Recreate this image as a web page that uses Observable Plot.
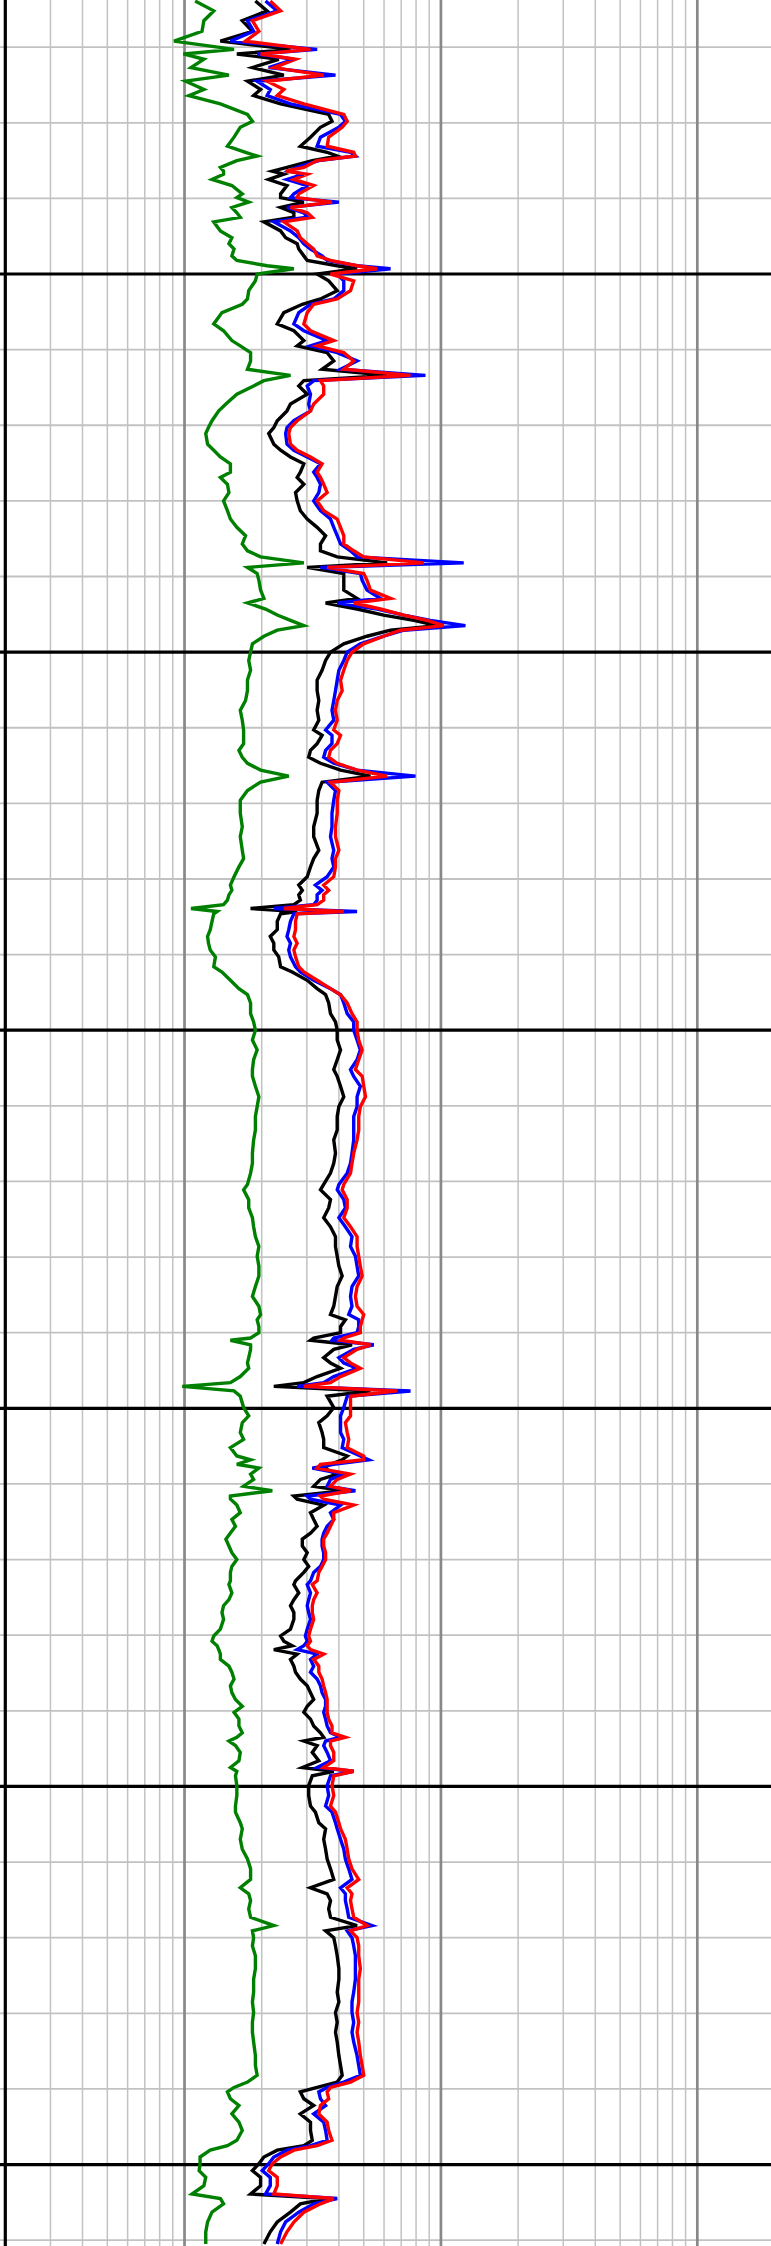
<!DOCTYPE html>
<html>
<head>
<meta charset="utf-8">
<script src="https://cdn.jsdelivr.net/npm/d3@7"></script>
<script src="https://cdn.jsdelivr.net/npm/@observablehq/plot@0.6"></script>
<style>
  html, body { margin: 0; padding: 0; background: #fff; }
  #chart { width: 771px; height: 2246px; overflow: hidden; }
  #chart svg { overflow: hidden; display: block; }
</style>
</head>
<body>
<div id="chart"></div>
<script>
// Depth (ft) of each sample, top to bottom
const depth = [
1013.9,1015.2,1016.5,1017.9,1019.2,1020.3,1020.9,1021.6,1022.7,1023.7,1024.5,1025.6,1026.4,1027.5,1028.9,1029.8,1030.6,1031.9,1033.1,1033.9,1034.4,1035.0,1035.9,1036.4,1036.8,1037.5,1038.3,1039.4,1039.9,1040.5,1041.2,1041.9,1042.5,1043.1,1044.3,1045.2,1046.0,1046.7,1047.6,1048.2,1048.9,1049.3,1050.0,
1050.9,1052.2,1053.3,1054.0,1055.1,1056.6,1057.5,1058.8,1059.5,1060.4,1061.5,1062.6,1063.4,1064.1,1064.8,1065.9,1067.2,1068.1,1069.4,1070.3,1071.1,1072.5,1073.3,1074.2,1075.1,1076.2,1076.9,1077.8,1078.9,1080.0,1081.3,1082.4,1083.5,1084.6,1085.7,1086.6,1087.4,
1088.2,1088.8,1089.6,1090.5,1091.8,1092.9,1093.5,1094.3,1095.1,1095.8,1096.5,1097.1,1097.9,1098.9,1100.0,1101.1,1102.4,1103.7,1105.1,1106.4,1107.7,1109.0,1110.3,1111.0,1112.1,1113.0,1113.9,1114.7,1115.6,1116.4,1117.2,1118.3,1119.6,1121.3,1123.1,1124.4,
1126.2,1127.3,1128.4,1129.7,1130.8,1131.5,1132.1,1132.8,1133.4,1133.9,1134.3,1134.6,1135.6,1136.7,1137.6,1138.5,1139.4,1140.3,1141.6,1142.3,1143.4,1144.5,1145.3,1146.4,1147.8,1148.9,1150.0,1151.3,1152.6,1153.9,1155.2,1156.1,1157.4,1158.8,1160.1,1161.4,
1163.2,1164.5,1166.25,1167.6,1168.9,1170.4,1171.1,1172.4,1173.5,1174.8,1176.0,1177.3,1178.6,1179.9,1181.2,1182.5,1183.9,1185.2,1186.5,1187.6,1188.3,1189.2,1190.0,1190.7,1191.0,1191.6,1192.2,1193.3,1194.0,1194.7,1195.8,1196.6,1197.1,1197.7,1198.4,
1199.9,1201.0,1201.9,1203.2,1204.1,1205.2,1206.3,1206.8,1207.4,1207.9,1208.7,1209.4,1210.3,1210.9,1211.6,1212.0,1212.8,1213.8,1214.7,1215.6,1216.5,1217.3,1218.2,1219.1,1220.0,1220.9,1221.7,1222.8,1223.3,1224.4,1225.3,1226.1,1227.0,1227.9,1229.2,1230.1,1230.8,1231.4,1231.9,1232.5,1233.2,1234.1,1234.9,1235.8,
1236.7,1237.6,1238.5,1239.4,1240.2,1241.1,1242.0,1242.9,1243.5,1244.0,1244.6,1245.5,1246.6,1247.5,1248.0,1248.6,1249.9,1251.2,1252.6,1253.4,1254.8,1255.6,1257.0,1258.3,1259.6,1260.9,1262.3,1263.4,1264.2,1265.1,1266.2,1267.3,1268.4,1269.1,1270.0,1271.1,1272.4,
1274.1,1275.5,1277.2,1278.5,1279.9,1281.2,1282.5,1283.8,1285.6,1286.9,1288.2,1289.1,1289.8,1290.4,1291.3,1292.2,1293.3,1294.4,1295.5,1296.8,1297.5,1298.1,1299.0,1299.9,1300.8,1301.7,1302.8,1303.9,1304.5,1305.2,1306.3,1307.6,1308.9,1310.5
];

const green = [
1.10,1.30,1.19,1.17,0.91,1.56,0.99,1.19,1.06,1.49,1.01,1.19,1.04,1.38,1.76,1.84,1.65,1.56,1.47,1.73,1.92,1.60,1.38,1.42,1.42,1.28,1.53,1.68,1.60,1.78,1.53,1.60,1.65,1.30,1.38,1.53,1.49,1.56,1.53,1.60,2.10,2.67,1.92,
1.89,1.78,1.76,1.68,1.40,1.30,1.42,1.53,1.65,1.81,1.81,1.76,2.59,2.04,1.86,1.60,1.45,1.36,1.28,1.24,1.21,1.23,1.30,1.38,1.51,1.51,1.38,1.47,1.49,1.42,1.47,1.51,1.60,1.73,1.68,1.76,1.98,
2.92,1.76,1.92,1.95,1.98,2.04,1.76,2.07,2.30,2.59,2.92,2.30,2.04,1.84,1.81,1.78,1.81,1.76,1.76,1.73,1.65,1.68,1.70,1.70,1.70,1.63,1.68,1.76,1.98,2.55,1.98,1.76,1.65,1.65,1.68,1.65,
1.68,1.70,1.63,1.56,1.51,1.53,1.49,1.47,1.42,1.06,1.34,1.30,1.28,1.26,1.23,1.24,1.26,1.32,1.30,1.40,1.51,1.63,1.76,1.81,1.81,1.86,1.89,1.84,1.92,1.86,1.84,1.84,1.89,1.95,1.92,1.89,
1.89,1.86,1.84,1.84,1.81,1.76,1.70,1.78,1.78,1.84,1.86,1.89,1.95,1.92,1.95,1.95,1.89,1.84,1.95,1.98,1.92,1.95,1.95,1.81,1.51,1.81,1.81,1.78,1.76,1.78,1.65,1.51,0.98,1.56,1.65,
1.70,1.78,1.68,1.65,1.70,1.51,1.60,1.81,1.60,1.95,1.81,1.86,1.70,2.20,1.51,1.51,1.60,1.65,1.53,1.58,1.51,1.45,1.49,1.53,1.60,1.53,1.51,1.51,1.49,1.53,1.49,1.42,1.40,1.42,1.38,1.30,1.28,1.34,1.36,1.38,1.38,1.49,1.53,1.56,
1.51,1.53,1.58,1.68,1.56,1.63,1.63,1.68,1.60,1.49,1.58,1.65,1.63,1.51,1.60,1.58,1.60,1.60,1.58,1.58,1.65,1.68,1.65,1.68,1.76,1.81,1.81,1.65,1.78,1.81,1.78,1.81,2.23,1.84,1.86,1.84,1.89,
1.89,1.86,1.86,1.84,1.86,1.84,1.84,1.86,1.89,1.89,1.92,1.76,1.56,1.47,1.51,1.63,1.53,1.63,1.68,1.60,1.47,1.26,1.15,1.15,1.14,1.21,1.19,1.07,1.38,1.42,1.28,1.23,1.21,1.21
];

const black = [
1.89,2.10,1.68,1.84,1.38,2.59,1.60,2.33,1.84,2.44,1.76,1.98,1.86,2.37,3.65,3.76,3.39,3.10,2.83,3.60,3.94,3.15,2.51,2.20,2.44,2.13,2.51,2.37,2.37,2.92,2.37,2.67,2.67,2.04,2.37,2.48,2.75,2.79,2.92,3.01,3.94,4.71,3.29,
3.65,3.94,3.39,2.88,2.44,2.30,2.67,2.92,2.75,3.60,3.82,3.44,6.17,2.92,2.79,3.01,2.59,2.51,2.30,2.23,2.13,2.23,2.37,2.59,2.92,2.83,2.75,2.92,2.71,2.75,2.83,3.01,3.29,3.55,3.39,3.39,3.94,
6.17,3.01,4.18,4.18,4.18,4.71,3.55,4.71,5.98,7.84,9.66,6.36,5.15,4.18,3.71,3.55,3.44,3.29,3.29,3.34,3.29,3.34,3.19,3.44,3.29,3.10,3.05,3.39,4.06,5.31,3.44,3.34,3.29,3.29,3.19,3.19,
3.34,3.19,3.10,3.01,2.79,2.88,2.79,2.83,2.67,1.81,2.75,2.37,2.30,2.30,2.16,2.23,2.23,2.33,2.37,2.63,3.01,3.29,3.55,3.65,3.71,3.88,3.94,3.94,4.06,3.94,3.82,3.94,4.06,4.18,4.00,3.94,
3.94,3.82,3.88,3.82,3.71,3.49,3.39,3.71,3.65,3.49,3.71,3.88,3.88,3.94,4.00,4.12,3.94,3.88,3.82,3.71,4.24,4.06,4.06,3.19,3.10,4.50,3.82,3.49,3.71,4.06,3.29,2.92,2.23,5.31,3.60,
3.82,3.60,3.34,3.44,3.49,3.49,4.31,4.12,3.71,3.49,3.94,3.39,3.19,4.18,2.67,2.75,3.49,3.10,3.19,3.29,3.10,2.88,2.88,3.01,2.92,3.05,2.92,2.71,2.67,2.79,2.67,2.59,2.67,2.67,2.59,2.37,2.44,2.63,2.23,2.75,2.59,2.67,2.71,2.83,
3.01,3.10,3.19,3.01,2.92,3.10,3.19,3.39,3.49,2.92,3.29,3.15,3.34,2.88,3.82,3.15,3.05,3.05,3.10,3.24,3.34,3.55,3.49,3.55,3.60,3.71,3.82,3.10,3.60,3.71,3.65,3.71,4.71,3.55,3.82,3.88,3.94,
4.00,4.00,3.94,4.00,3.88,3.94,3.88,3.94,4.00,4.06,4.12,3.94,3.29,2.83,2.92,3.19,2.83,3.10,3.10,3.15,2.92,2.30,2.04,1.95,1.84,1.98,1.98,1.81,3.60,2.83,2.59,2.30,2.16,2.04
];

const blue = [
2.07,2.30,1.76,1.86,1.51,3.29,1.92,2.67,2.13,3.88,1.92,2.16,2.10,2.59,4.06,4.24,4.00,3.39,3.29,4.44,4.64,3.34,2.75,2.55,2.92,2.51,3.01,2.67,2.59,4.00,2.51,2.92,3.01,2.23,2.59,2.79,2.92,3.10,3.44,3.60,4.71,6.36,3.94,
4.18,4.18,3.82,3.10,2.79,2.67,2.92,3.60,3.10,3.94,4.71,4.06,8.70,3.19,3.01,3.10,3.05,3.10,2.67,2.51,2.48,2.51,2.67,3.01,3.39,3.19,3.29,3.39,3.34,3.19,3.39,3.71,3.82,3.94,4.06,4.44,4.71,
12.27,3.39,4.85,4.93,5.15,5.81,3.94,5.64,7.16,9.10,12.46,7.16,5.98,4.85,4.31,4.18,4.00,3.94,3.88,3.82,3.76,3.82,3.55,3.76,3.76,3.55,3.49,3.82,4.71,7.96,3.60,3.88,3.82,3.76,3.76,3.71,
3.82,3.76,3.82,3.60,3.24,3.44,3.29,3.29,3.19,2.23,4.71,2.67,2.59,2.55,2.51,2.59,2.55,2.59,2.71,2.83,3.19,3.71,4.06,4.18,4.31,4.57,4.57,4.71,4.85,4.71,4.44,4.57,4.85,4.71,4.71,4.57,
4.57,4.57,4.50,4.44,4.31,4.00,3.94,4.18,4.24,4.00,4.24,4.50,4.44,4.64,4.71,4.78,4.50,4.44,4.50,4.37,4.78,4.78,4.71,3.82,3.76,5.47,4.57,4.00,4.18,4.71,3.82,3.49,2.75,7.61,4.31,
4.18,4.06,4.06,4.06,4.18,4.12,4.85,5.23,3.82,3.15,4.18,3.71,3.60,4.64,3.01,3.10,4.06,3.71,3.82,3.60,3.49,3.44,3.44,3.49,3.49,3.39,3.19,3.10,3.01,3.10,3.05,3.01,3.05,3.10,3.01,2.96,3.01,2.92,2.75,3.29,3.10,3.19,3.10,3.29,
3.39,3.44,3.55,3.55,3.49,3.55,3.60,3.71,4.06,3.55,3.49,3.60,3.71,3.29,4.57,3.71,3.60,3.65,3.55,3.76,3.88,3.94,4.06,4.18,4.24,4.37,4.50,4.06,4.24,4.24,4.31,4.37,5.39,4.31,4.50,4.57,4.64,
4.64,4.64,4.57,4.50,4.50,4.57,4.50,4.57,4.71,4.78,4.85,4.18,3.60,3.34,3.39,3.55,3.19,3.49,3.55,3.60,3.10,2.51,2.23,2.13,2.01,2.16,2.16,2.07,3.94,3.19,2.79,2.48,2.37,2.30
];

const red = [
2.16,2.37,1.84,1.95,1.73,3.10,1.98,2.71,2.23,3.49,2.10,2.44,2.30,2.92,4.18,4.31,4.12,3.65,3.60,4.57,4.64,3.29,2.92,2.48,3.01,2.67,3.19,2.79,2.75,3.76,2.59,3.01,3.15,2.44,2.75,2.83,3.01,3.19,3.29,3.71,4.71,5.64,3.71,
4.57,4.44,3.94,3.19,3.01,2.92,3.10,3.82,3.29,4.18,4.57,4.18,7.61,3.39,3.49,3.49,3.19,3.10,2.75,2.59,2.55,2.59,2.75,3.10,3.44,3.29,3.39,3.49,3.60,3.29,3.49,3.94,4.06,4.18,4.18,4.57,5.00,
8.58,3.60,5.00,5.15,5.31,6.36,4.57,5.81,7.16,8.83,10.26,6.95,5.98,5.00,4.50,4.31,4.18,4.06,4.12,3.94,3.88,3.94,3.82,4.06,3.94,3.71,3.65,3.94,4.71,6.17,3.71,4.00,3.94,3.94,3.88,3.88,
4.00,3.88,3.88,3.82,3.49,3.65,3.49,3.49,3.29,2.44,4.18,2.75,2.71,2.71,2.67,2.75,2.67,2.71,2.79,2.92,3.29,3.71,4.06,4.31,4.50,4.71,4.71,4.78,4.93,4.78,4.64,4.93,5.00,5.08,4.85,4.78,
4.78,4.71,4.57,4.50,4.44,4.18,4.12,4.31,4.31,4.18,4.44,4.71,4.71,4.78,4.85,4.93,4.71,4.64,4.71,5.00,4.93,4.85,4.85,4.18,4.06,5.31,4.71,4.18,4.44,4.85,4.06,3.71,2.92,6.75,4.44,
4.44,4.44,4.24,4.31,4.37,4.31,5.00,5.00,3.39,3.29,4.44,3.94,3.71,4.44,3.39,3.49,4.57,3.82,3.82,3.71,3.60,3.49,3.49,3.55,3.55,3.44,3.34,3.29,3.15,3.29,3.19,3.15,3.15,3.19,3.10,3.05,3.10,3.01,3.10,3.49,3.19,3.34,3.34,3.44,
3.49,3.55,3.60,3.60,3.60,3.65,3.76,3.76,4.24,3.71,3.71,3.82,3.82,3.49,4.57,3.82,3.76,3.82,3.71,3.88,4.00,4.06,4.24,4.31,4.37,4.50,4.78,4.31,4.50,4.44,4.50,4.57,5.15,4.44,4.71,4.78,4.78,
4.85,4.78,4.78,4.78,4.71,4.78,4.71,4.78,4.85,4.93,5.00,4.44,3.71,3.60,3.65,3.39,3.34,3.60,3.65,3.76,3.29,2.67,2.37,2.20,2.13,2.30,2.30,2.23,3.82,3.39,2.92,2.67,2.51,2.37
];

// Grid positions
const xMinorTicks = [0.3,0.4,0.5,0.6,0.7,0.8,0.9,2,3,4,5,6,7,8,9,20,30,40,50,60,70,80,90,200,300,400,500,600,700,800,900];
const xDecadeTicks = [1,10,100,1000];
const depthMinorTicks = d3.range(1020, 1311, 10);
const depthMajorTicks = [1050,1100,1150,1200,1250,1300];
const xLeftEdge = [0.2];

const rows = depth.map((d, i) => ({depth: d, green: green[i], black: black[i], blue: blue[i], red: red[i]}));

const lineOpts = {strokeWidth: 3.4, strokeLinejoin: "miter", strokeMiterlimit: 4, strokeLinecap: "butt", curve: "linear"};

const chart = Plot.plot({
  width: 771,
  height: 2246,
  margin: 0,
  style: {background: "white", overflow: "hidden"},
  x: {type: "log", domain: [0.2, 2000], range: [4.8, 1030.4], axis: null},
  y: {domain: [1013.83, 1310.84], range: [0, 2246], axis: null},
  marks: [
    Plot.ruleX(xMinorTicks, {stroke: "#c2c2c2", strokeWidth: 1.5}),
    Plot.ruleY(depthMinorTicks, {stroke: "#c2c2c2", strokeWidth: 1.8}),
    Plot.ruleX(xDecadeTicks, {stroke: "#888888", strokeWidth: 2.7}),
    Plot.ruleY(depthMajorTicks, {stroke: "black", strokeWidth: 3.2}),
    Plot.ruleX(xLeftEdge, {stroke: "black", strokeWidth: 3.2}),
    Plot.line(rows, {x: "green", y: "depth", stroke: "green", ...lineOpts}),
    Plot.line(rows, {x: "black", y: "depth", stroke: "black", ...lineOpts}),
    Plot.line(rows, {x: "blue", y: "depth", stroke: "blue", ...lineOpts}),
    Plot.line(rows, {x: "red", y: "depth", stroke: "red", ...lineOpts})
  ]
});
document.getElementById("chart").appendChild(chart);
</script>
</body>
</html>
